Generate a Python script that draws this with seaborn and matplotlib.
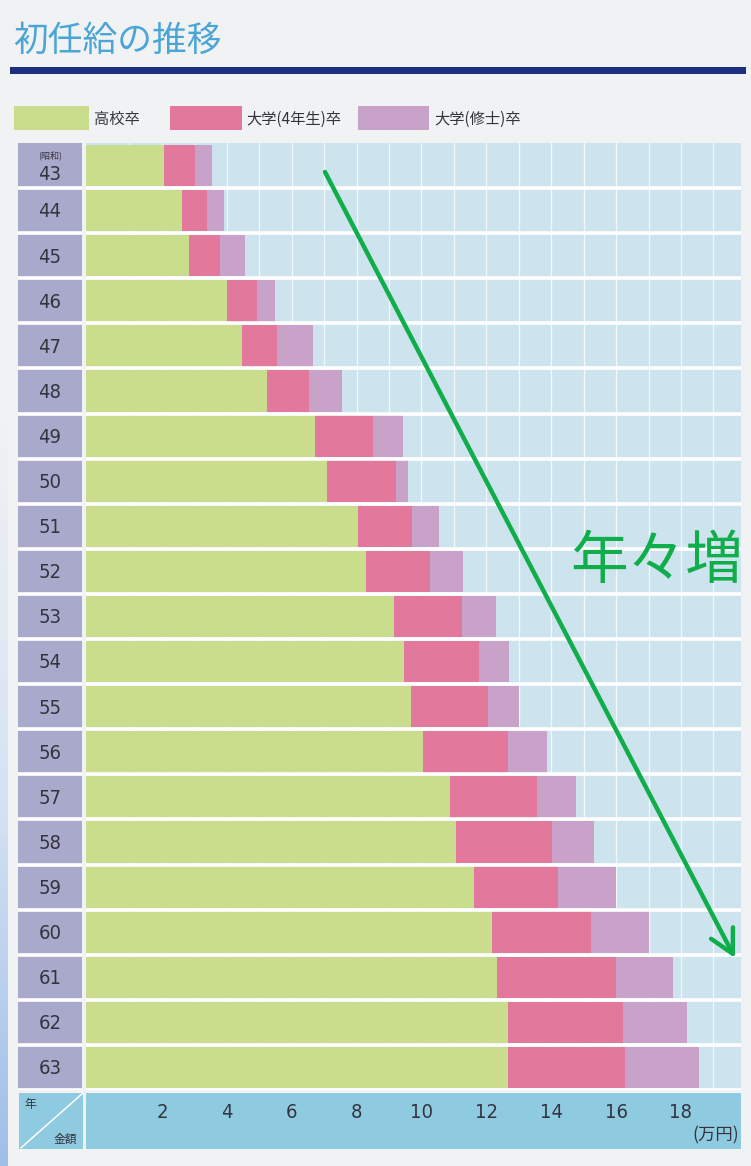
import matplotlib
matplotlib.use("Agg")
import matplotlib.pyplot as plt
import numpy as np
import pandas as pd
import seaborn as sns
from matplotlib.patches import Rectangle
from matplotlib.colors import LinearSegmentedColormap

# 初任給 (万円), 昭和43年〜63年
years = ["43", "44", "45", "46", "47", "48", "49", "50", "51", "52", "53",
         "54", "55", "56", "57", "58", "59", "60", "61", "62", "63"]
high_school = [2.06, 2.62, 2.84, 4.01, 4.47, 5.24, 6.73, 7.09, 8.03, 8.29, 9.15,
               9.46, 9.68, 10.05, 10.88, 11.06, 11.62, 12.17, 12.33, 12.67, 12.67]
university = [3.02, 3.39, 3.79, 4.93, 5.55, 6.53, 8.51, 9.21, 9.71, 10.26, 11.25,
              11.77, 12.05, 12.67, 13.56, 14.02, 14.21, 15.22, 15.99, 16.21, 16.27]
masters = [3.54, 3.91, 4.56, 5.49, 6.66, 7.55, 9.43, 9.60, 10.54, 11.28, 12.30,
           12.70, 13.00, 13.87, 14.76, 15.32, 15.99, 17.01, 17.75, 18.18, 18.55]
tick_values = [2, 4, 6, 8, 10, 12, 14, 16, 18]
series_labels = ["高校卒", "大学(4年生)卒", "大学(修士)卒"]

PAGE = "#f1f2f4"
SKY = "#cde4ee"
GREEN = "#c9dd8c"
PINK = "#e2789c"
PURPLE = "#c9a2c9"
LAVENDER = "#a9a9cb"
BAND = "#8fcbe0"
NAVY = "#1d2f80"
TITLE = "#4ba6d6"
ARROW = "#10ad4b"
INK = "#34343f"

sns.set_theme(style="white")
plt.rcParams["font.family"] = ["Noto Sans CJK JP", "DejaVu Sans"]
NUM = dict(family=["DejaVu Sans"], fontstretch="condensed")

W, H = 751, 1166
fig = plt.figure(figsize=(W / 100, H / 100), dpi=100, facecolor=PAGE)


def box(x0, y0, x1, y1):
    """Axes rectangle from pixel edges measured from the top-left corner."""
    return [x0 / W, 1 - y1 / H, (x1 - x0) / W, (y1 - y0) / H]


def bare(a):
    a.set_xticks([])
    a.set_yticks([])
    a.set_xlabel("")
    a.set_ylabel("")
    for s in a.spines.values():
        s.set_visible(False)


# bluish page edge at the lower left
edge = fig.add_axes(box(0, 420, 8, 1166))
edge_cmap = LinearSegmentedColormap.from_list("edge", [PAGE, "#d6e3f3", "#9fbee8"])
edge.imshow(np.linspace(0, 1, 200)[:, None], aspect="auto", cmap=edge_cmap,
            extent=(0, 1, 1, 0))
bare(edge)

# value axis: left edge sits a little before zero
X0, X1 = -0.34, 19.85

df = pd.DataFrame({"year": years, "hs": high_school,
                   "univ": university, "master": masters})

ax = fig.add_axes(box(86, 143, 741, 1090))
ax.set_facecolor(SKY)
for col, color in (("master", PURPLE), ("univ", PINK), ("hs", GREEN)):
    sns.barplot(data=df, x=col, y="year", order=years, orient="h",
                color=color, saturation=1, width=0.92, linewidth=0, ax=ax)
# bars begin at the left edge of the panel
for p in ax.patches:
    p.set_x(X0)
    p.set_width(p.get_width() - X0)
    p.set_zorder(2)

ax.set_xlim(X0, X1)
ax.set_ylim(len(years) - 0.5, -0.5)
for v in range(1, 20):
    ax.axvline(v, color="white", lw=0.9, alpha=0.75, zorder=1)
for k in range(len(years)):
    ax.axhline(k + 0.5, color="white", lw=2.6, zorder=3)
bare(ax)

# year column
ay = fig.add_axes(box(18, 143, 82, 1090))
ay.set_facecolor(LAVENDER)
ay.set_xlim(0, 1)
ay.set_ylim(len(years) - 0.5, -0.5)
for k in range(len(years)):
    ay.axhline(k + 0.5, color="white", lw=2.6)
for k, yr in enumerate(years):
    dy = 0.19 if k == 0 else 0.03
    ay.text(0.5, k + dy, yr, ha="center", va="center", fontsize=14.5,
            color=INK, **NUM)
ay.text(0.5, -0.2, "(昭和)", ha="center", va="center", fontsize=6.5, color=INK)
bare(ay)

# amount band
ab = fig.add_axes(box(86, 1093, 741, 1149))
ab.set_facecolor(BAND)
ab.set_xlim(X0, X1)
ab.set_ylim(0, 1)
for t in tick_values:
    ab.text(t, 0.66, str(t), ha="center", va="center", fontsize=14.5,
            color=INK, **NUM)
ab.text(0.997, 0.25, "(万円)", transform=ab.transAxes, ha="right",
        va="center", fontsize=12.5, color=INK)
bare(ab)

ac = fig.add_axes(box(19, 1093, 83, 1149))
ac.set_facecolor(BAND)
ac.set_xlim(0, 1)
ac.set_ylim(0, 1)
ac.plot([0.03, 1], [0.02, 1], color="white", lw=1.1)
ac.text(0.17, 0.79, "年", ha="center", va="center", fontsize=8.5, color=INK)
ac.text(0.72, 0.17, "金額", ha="center", va="center", fontsize=8.5, color=INK)
bare(ac)

# title and rule
fig.text(13 / W, 1 - 41 / H, "初任給の推移", fontsize=25, color=TITLE,
         ha="left", va="center")
fig.add_artist(Rectangle((10 / W, 1 - 74 / H), 736 / W, 7 / H,
                         transform=fig.transFigure, color=NAVY, lw=0))

# legend
legend_items = [(14, 89, 94, GREEN), (170, 242, 246, PINK), (358, 429, 434, PURPLE)]
for (x0, x1, tx, color), label in zip(legend_items, series_labels):
    fig.add_artist(Rectangle((x0 / W, 1 - 130 / H), (x1 - x0) / W, 24 / H,
                             transform=fig.transFigure, color=color, lw=0))
    fig.text(tx / W, 1 - 119 / H, label, fontsize=11, color=INK,
             ha="left", va="center")

# trend arrow
ax.annotate("", xy=(735 / W, 1 - 958 / H), xytext=(325 / W, 1 - 172 / H),
            xycoords="figure fraction", textcoords="figure fraction",
            arrowprops=dict(arrowstyle="->,head_length=1.4,head_width=0.74",
                            color=ARROW, lw=3.2, shrinkA=0, shrinkB=0),
            zorder=6)
fig.text(570 / W, 1 - 562 / H, "年々増", fontsize=41.5, color=ARROW,
         ha="left", va="center", zorder=6)

fig.savefig("out.png", dpi=100, facecolor=PAGE)
